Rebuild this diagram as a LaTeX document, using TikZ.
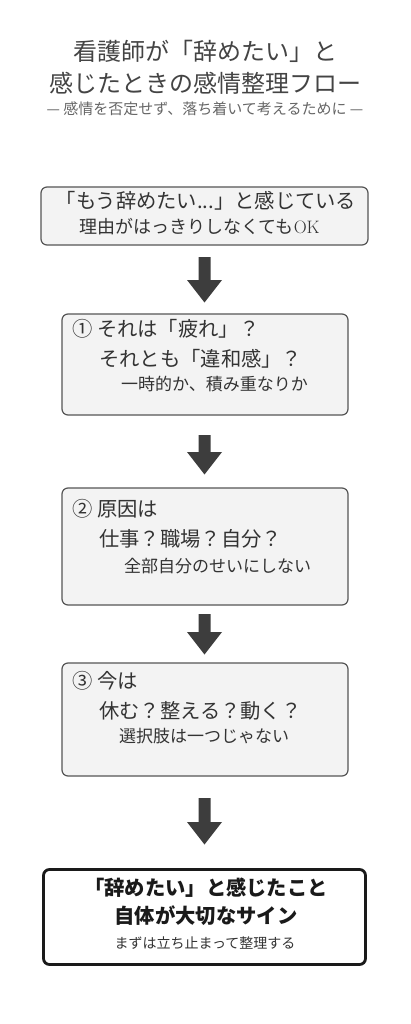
\documentclass[tikz,border=0pt]{standalone}
\usepackage{fontspec}
\setmainfont{Noto Sans CJK JP}
\definecolor{boxfill}{HTML}{F3F3F3}
\definecolor{boxline}{HTML}{555555}
\definecolor{arrowc}{HTML}{3D3D3D}
\definecolor{titlec}{HTML}{444444}
\definecolor{subc}{HTML}{666666}
\definecolor{textc}{HTML}{333333}
\definecolor{finalline}{HTML}{1A1A1A}
\newcommand\lmtext[1]{{\fontfamily{lmr}\selectfont #1}}
\newcommand\downarr[2]{\fill[arrowc] (#1) ++(-6,0) -- ++(12,0) -- ++(0,#2) -- ++(11.5,0) -- ++(-17.5,22.5) -- ++(-17.5,-22.5) -- ++(11.5,0) -- cycle;}
\begin{document}
\begin{tikzpicture}[x=1pt,y=-1pt,
  txt/.style={inner sep=0pt, text height=.88em, text depth=.12em, text=textc},
  boxg/.style={draw=boxline, fill=boxfill, rounded corners=6pt, line width=1.2pt, inner sep=0pt},
  boxf/.style={draw=finalline, fill=white, rounded corners=6pt, line width=2.8pt, inner sep=0pt},
  big/.style={font=\fontsize{20.3}{24}\selectfont},
  mid/.style={font=\fontsize{17}{20}\selectfont}]
\useasboundingbox (0,0) rectangle (410,1024);
\fill[white] (0,0) rectangle (410,1024);

% title
\node[txt, text=titlec, font=\fontsize{24}{28}\selectfont] (t1) at (205,57) {看護師が「辞めたい」と};
\node[txt, text=titlec, font=\fontsize{24}{28}\selectfont] (t2) at (205,89) {感じたときの感情整理フロー};
\node[txt, text=subc, font=\fontsize{15}{18}\selectfont] (t3) at (205,111) {— 感情を否定せず、落ち着いて考えるために —};

% boxes
\node[boxg, minimum width=327pt, minimum height=58pt] (b1) at (204.5,216) {};
\node[boxg, minimum width=286pt, minimum height=101pt] (b2) at (205,364.5) {};
\node[boxg, minimum width=286pt, minimum height=117pt] (b3) at (205,546.5) {};
\node[boxg, minimum width=286pt, minimum height=113pt] (b4) at (205,719.5) {};
\node[boxf, minimum width=322pt, minimum height=95pt] (b5) at (204.5,917) {};

% box 1 text
\node[txt, font=\fontsize{20.3}{24}\selectfont] (b1a) at (206,205) {「もう辞めたい...」と感じている};
\node[txt, anchor=west, font=\fontsize{18}{21}\selectfont] (b1b) at (79,230) {理由がはっきりしなくても\lmtext{OK}};

% box 2 text
\node[txt, big, anchor=west] (b2a) at (72,333) {① それは「疲れ」？};
\node[txt, big, anchor=west] (b2b) at (99,363) {それとも「違和感」？};
\node[txt, mid, anchor=west] (b2c) at (121,387) {一時的か、積み重なりか};

% box 3 text
\node[txt, big, anchor=west] (b3a) at (72,513) {② 原因は};
\node[txt, big, anchor=west] (b3b) at (99,543) {仕事？職場？自分？};
\node[txt, mid, anchor=west] (b3c) at (124,569) {全部自分のせいにしない};

% box 4 text
\node[txt, big, anchor=west] (b4a) at (72,685) {③ 今は};
\node[txt, big, anchor=west] (b4b) at (99,715) {休む？整える？動く？};
\node[txt, mid, anchor=west] (b4c) at (119,739) {選択肢は一つじゃない};

% box 5 text
\node[txt, text=finalline, font=\fontsize{20.3}{24}\selectfont\bfseries] (b5a) at (206,892) {「辞めたい」と感じたこと};
\node[txt, text=finalline, font=\fontsize{20.3}{24}\selectfont\bfseries] (b5b) at (206,920) {自体が大切なサイン};
\node[txt, font=\fontsize{14}{17}\selectfont] (b5c) at (205,945) {まずは立ち止まって整理する};

% arrows
\coordinate (a1) at (204.5,257);
\coordinate (a2) at (204.5,435);
\coordinate (a3) at (204.5,614);
\coordinate (a4) at (204.5,798);
\downarr{a1}{23}
\downarr{a2}{17}
\downarr{a3}{18}
\downarr{a4}{24}
\end{tikzpicture}
\end{document}
